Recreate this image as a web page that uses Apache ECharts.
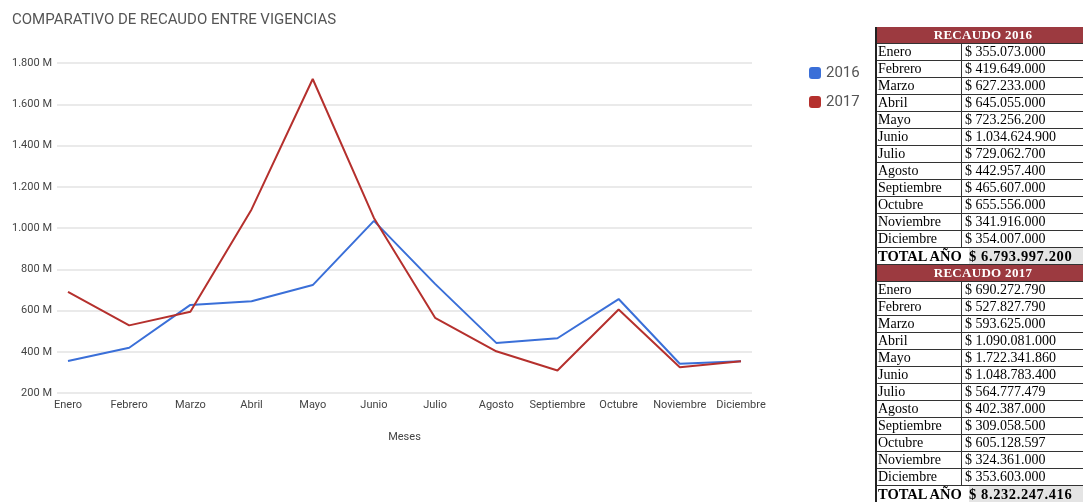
<!DOCTYPE html>
<html>
<head>
<meta charset="utf-8">
<script src="https://cdn.jsdelivr.net/npm/echarts@6/dist/echarts.min.js"></script>
<style>
html,body{margin:0;padding:0;background:#fff;}
#chart{position:absolute;left:0;top:0;width:1083px;height:502px;}
#tbl{position:absolute;left:875px;top:27px;width:212px;font-family:"Liberation Serif","Times New Roman",serif;font-size:14px;color:#000;border-left:2px solid #222;}
.row{height:17px;box-sizing:border-box;border-bottom:1px solid #333;display:flex;line-height:16px;white-space:nowrap;}
.hdr{background:#9c3a40;color:#fff;font-weight:bold;justify-content:center;font-size:13px;letter-spacing:0.3px;}
.c1{width:85px;box-sizing:border-box;border-right:1px solid #333;padding-left:1px;background:#fff;}
.c2{flex:1;padding-left:3px;background:#fff;}
.tot{font-weight:bold;font-size:14.5px;background:#e4e4e4;}
.tot .t1{width:91px;padding-left:1px;background:#fff;}
.tot .t2{flex:1;padding-left:0px;letter-spacing:0.6px;}
</style>
</head>
<body>
<div id="chart"></div>
<div id="tbl"></div>
<script>
// ---- data ----
const months = ['Enero','Febrero','Marzo','Abril','Mayo','Junio','Julio','Agosto','Septiembre','Octubre','Noviembre','Diciembre'];
const recaudo2016 = [355073000, 419649000, 627233000, 645055000, 723256200, 1034624900, 729062700, 442957400, 465607000, 655556000, 341916000, 354007000];
const recaudo2017 = [690272790, 527827790, 593625000, 1090081000, 1722341860, 1048783400, 564777479, 402387000, 309058500, 605128597, 324361000, 353603000];
const total2016 = 6793997200;
const total2017 = 8232247416;
const yTicks = [200, 400, 600, 800, 1000, 1200, 1400, 1600, 1800];
const seriesNames = ['2016', '2017'];

function fmt(n){ return String(n).replace(/\B(?=(\d{3})+(?!\d))/g, '.'); }

// ---- table ----
const tbl = document.getElementById('tbl');
function addBlock(year, vals, total){
  let h = '<div class="row hdr">RECAUDO ' + year + '</div>';
  vals.forEach((v,i)=>{
    h += '<div class="row"><div class="c1">' + months[i] + '</div><div class="c2">$ ' + fmt(v) + '</div></div>';
  });
  h += '<div class="row tot"><div class="t1">TOTAL AÑO</div><div class="t2">$ ' + fmt(total) + '</div></div>';
  return h;
}
tbl.innerHTML = addBlock('2016', recaudo2016, total2016) + addBlock('2017', recaudo2017, total2017);

// ---- chart ----
const chart = echarts.init(document.getElementById('chart'));
const toM = a => a.map(v => v / 1e6);
const font = 'Roboto, Arial, sans-serif';
chart.setOption({
  animation: false,
  title: {
    text: 'COMPARATIVO DE RECAUDO ENTRE VIGENCIAS',
    left: 7, top: 8,
    textStyle: {fontFamily: font, fontSize: 15, fontWeight: 'normal', color: '#555'}
  },
  legend: {
    orient: 'vertical', left: 804, top: 59,
    itemWidth: 12, itemHeight: 12, itemGap: 11,
    icon: 'roundRect',
    data: seriesNames,
    textStyle: {fontFamily: font, fontSize: 15, color: '#555', lineHeight: 18}
  },
  grid: [
    {left: 57, right: 331, top: 63, bottom: 109},
    {left: 68, right: 342, top: 63, bottom: 109}
  ],
  xAxis: [
    {gridIndex: 0, type: 'category', data: months, show: false},
    {
      gridIndex: 1, type: 'category', data: months, boundaryGap: false,
      axisLine: {show: false}, axisTick: {show: false},
      axisLabel: {interval: 0, margin: 7, fontFamily: font, fontSize: 11, color: '#444'},
      name: 'Meses', nameLocation: 'middle', nameGap: 39,
      nameTextStyle: {fontFamily: font, fontSize: 11, color: '#444'}
    }
  ],
  yAxis: [
    {
      gridIndex: 0, type: 'value', min: yTicks[0], max: yTicks[yTicks.length-1], interval: 200,
      axisLine: {show: false}, axisTick: {show: false},
      axisLabel: {margin: 5, fontFamily: font, fontSize: 11, color: '#444', formatter: v => fmt(v) + ' M'},
      splitLine: {lineStyle: {color: '#e3e3e3', width: 1.5}}
    },
    {
      gridIndex: 1, type: 'value', min: yTicks[0], max: yTicks[yTicks.length-1], interval: 200,
      show: false, splitLine: {show: false}
    }
  ],
  series: [
    {name: seriesNames[0], type: 'line', xAxisIndex: 1, yAxisIndex: 1, data: toM(recaudo2016),
     showSymbol: false, color: '#3a6fd8', lineStyle: {width: 2}},
    {name: seriesNames[1], type: 'line', xAxisIndex: 1, yAxisIndex: 1, data: toM(recaudo2017),
     showSymbol: false, color: '#b5302d', lineStyle: {width: 2}}
  ]
});
</script>
</body>
</html>
